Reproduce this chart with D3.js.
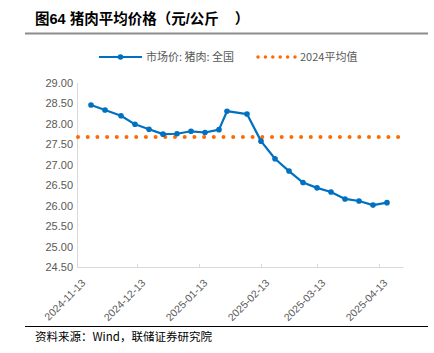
<!DOCTYPE html>
<html>
<head>
<meta charset="utf-8">
<script src="https://cdn.jsdelivr.net/npm/d3@7"></script>
<style>
  body { margin: 0; background: #fff; }
  svg { display: block; }
</style>
</head>
<body>
<svg id="chart" width="434" height="353"></svg>
<script>
// weekly national pork market price
const dates = ["2024-11-20", "2024-11-27", "2024-12-05", "2024-12-12", "2024-12-19", "2024-12-26",
  "2025-01-02", "2025-01-09", "2025-01-16", "2025-01-23", "2025-01-27", "2025-02-06",
  "2025-02-13", "2025-02-20", "2025-02-27", "2025-03-06", "2025-03-13", "2025-03-20",
  "2025-03-27", "2025-04-03", "2025-04-10", "2025-04-17"];
const prices = [28.45, 28.33, 28.19, 27.98, 27.86, 27.74, 27.75, 27.81, 27.78, 27.85, 28.30,
  28.23, 27.57, 27.14, 26.84, 26.56, 26.43, 26.33, 26.16, 26.11, 26.01, 26.07];
const avg2024 = 27.67;
const yTicks = [24.5, 25, 25.5, 26, 26.5, 27, 27.5, 28, 28.5, 29];
const xTicks = ["2024-11-13", "2024-12-13", "2025-01-13", "2025-02-13", "2025-03-13", "2025-04-13"];
const seriesNames = ["市场价: 猪肉: 全国", "2024平均值"];

const parse = d3.timeParse("%Y-%m-%d");
const data = dates.map((d, i) => ({ date: parse(d), value: prices[i] }));

const blue = "#0070c0";
const orange = "#ff6a00";
const cjk = "'Noto Sans CJK SC', sans-serif";
const latin = "'Liberation Sans', Arial, sans-serif";

const svg = d3.select("#chart");

// title
const title = svg.append("text")
  .attr("x", 35).attr("y", 24)
  .attr("font-family", latin + ", " + cjk)
  .attr("font-weight", "bold")
  .attr("font-size", 14.5)
  .attr("fill", "#000");
title.append("tspan").text("图64 猪肉平均价格（元/公斤");
title.append("tspan").attr("dx", 16).text("）");

svg.append("line")
  .attr("x1", 25).attr("x2", 428)
  .attr("y1", 33.5).attr("y2", 33.5)
  .attr("stroke", "#8c8c8c").attr("stroke-width", 2);

// scales
const x = d3.scaleTime()
  .domain([parse("2024-11-13"), parse("2025-04-25")])
  .range([77, 403]);
const y = d3.scaleLinear()
  .domain([24.5, 29])
  .range([267, 82.5]);

// y axis
const yAxis = svg.append("g")
  .attr("transform", "translate(77,0)")
  .call(d3.axisLeft(y).tickValues(yTicks).tickSize(0).tickPadding(4).tickFormat(d3.format(".2f")));
yAxis.select(".domain").attr("stroke", "#d9d9d9");
yAxis.selectAll("text")
  .attr("font-family", latin)
  .attr("font-size", 11)
  .attr("fill", "#595959");

// x axis
const xAxis = svg.append("g")
  .attr("transform", "translate(0,267)")
  .call(d3.axisBottom(x).tickValues(xTicks.map(parse)).tickSizeInner(-3).tickSizeOuter(0)
    .tickFormat(d3.timeFormat("%Y-%m-%d")));
xAxis.select(".domain").attr("stroke", "#d9d9d9");
xAxis.selectAll(".tick line").attr("stroke", "#d9d9d9");
xAxis.selectAll("text")
  .attr("font-family", latin)
  .attr("font-size", 10.5)
  .attr("fill", "#595959")
  .attr("text-anchor", "end")
  .attr("dy", "0.35em")
  .attr("transform", "translate(4,12) rotate(-45)");

// 2024 average dotted line
svg.append("line")
  .attr("x1", x.range()[0] + 1).attr("x2", x.range()[1])
  .attr("y1", y(avg2024)).attr("y2", y(avg2024))
  .attr("stroke", orange)
  .attr("stroke-width", 4)
  .attr("stroke-linecap", "round")
  .attr("stroke-dasharray", "0 9.7");

// price line
const line = d3.line().x(d => x(d.date)).y(d => y(d.value));
svg.append("path")
  .datum(data)
  .attr("d", line)
  .attr("fill", "none")
  .attr("stroke", blue)
  .attr("stroke-width", 2.2)
  .attr("stroke-linejoin", "round");

svg.selectAll("circle.pt")
  .data(data)
  .enter()
  .append("circle")
  .attr("class", "pt")
  .attr("cx", d => x(d.date))
  .attr("cy", d => y(d.value))
  .attr("r", 2.8)
  .attr("fill", blue);

// legend
const lg = svg.append("g");
lg.append("line")
  .attr("x1", 99).attr("x2", 142).attr("y1", 57).attr("y2", 57)
  .attr("stroke", blue).attr("stroke-width", 2.2);
lg.append("circle").attr("cx", 120.5).attr("cy", 57).attr("r", 2.8).attr("fill", blue);
lg.append("text")
  .attr("x", 146).attr("y", 61)
  .attr("font-family", cjk).attr("font-size", 11).attr("fill", "#595959")
  .text(seriesNames[0]);
lg.append("line")
  .attr("x1", 258).attr("x2", 297).attr("y1", 57).attr("y2", 57)
  .attr("stroke", orange).attr("stroke-width", 3.5)
  .attr("stroke-linecap", "round")
  .attr("stroke-dasharray", "0 7.4");
lg.append("text")
  .attr("x", 300).attr("y", 61)
  .attr("font-family", cjk).attr("font-size", 11).attr("fill", "#595959")
  .text(seriesNames[1]);

// footer
svg.append("line")
  .attr("x1", 25).attr("x2", 428)
  .attr("y1", 326.5).attr("y2", 326.5)
  .attr("stroke", "#000").attr("stroke-width", 1);
svg.append("text")
  .attr("x", 35).attr("y", 341)
  .attr("font-family", cjk)
  .attr("font-size", 11.5)
  .attr("fill", "#000")
  .text("资料来源：Wind，联储证券研究院");
</script>
</body>
</html>
